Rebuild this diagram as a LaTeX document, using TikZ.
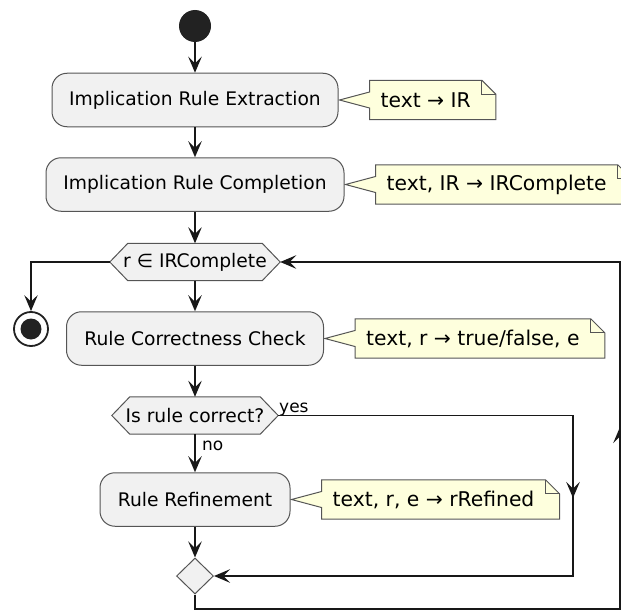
\documentclass[tikz,border=0pt]{standalone}
\usepackage{fontspec}
\setmainfont{DejaVu Sans}
\usetikzlibrary{arrows.meta,shapes.geometric,backgrounds,calc}

\definecolor{actfill}{HTML}{F1F1F1}
\definecolor{notefill}{HTML}{FEFFDD}
\definecolor{edgecol}{HTML}{555555}
\definecolor{linecol}{HTML}{181818}
\definecolor{dotcol}{HTML}{222222}

\newcommand\actfont{\fontsize{18.7pt}{22pt}\selectfont}
\newcommand\notefont{\fontsize{20.3pt}{24pt}\selectfont}
\newcommand\lblfont{\fontsize{17pt}{20pt}\selectfont}

% note frame with folded corner and a pointer to the action box
\newcommand\notepath[2]{%
  \filldraw[noteframe] (#1.north west) -- (#1.north east)
    -- ([xshift=14pt,yshift=-14pt]#1.north east) -- ([xshift=14pt]#1.south east)
    -- (#1.south west) -- ([yshift=-8pt]#1.west) -- ([xshift=1pt]#2.east)
    -- ([yshift=8pt]#1.west) -- cycle;
  \draw[noteframe,fill=none] (#1.north east) -- ([yshift=-14pt]#1.north east)
    -- ([xshift=14pt,yshift=-14pt]#1.north east);}

% hexagonal decision outline around a node
\newcommand\hexpath[1]{%
  \filldraw[hexframe] (#1.west) -- ([xshift=18pt]#1.north west) -- ([xshift=-18pt]#1.north east)
    -- (#1.east) -- ([xshift=-18pt]#1.south east) -- ([xshift=18pt]#1.south west) -- cycle;}

\tikzset{
  act/.style={rectangle, rounded corners=15pt, draw=edgecol, line width=1pt, fill=actfill,
    minimum height=53.5pt, inner sep=0pt, font=\actfont, text=black},
  hexa/.style={rectangle, inner sep=0pt, minimum height=37pt, font=\actfont, text=black},
  hexframe/.style={draw=edgecol, line width=1pt, fill=actfill},
  notetext/.style={anchor=west, inner xsep=11pt, inner ysep=0pt, minimum height=39pt,
    font=\notefont, text=black},
  noteframe/.style={draw=edgecol, line width=1pt, fill=notefill, line join=miter},
  merge/.style={diamond, draw=edgecol, line width=1pt, fill=actfill, inner sep=0pt,
    minimum width=37pt, minimum height=36pt},
  startdot/.style={circle, fill=dotcol, inner sep=0pt, minimum size=32pt},
  stopring/.style={circle, draw=dotcol, line width=1.8pt, fill=white, inner sep=0pt, minimum size=34pt},
  stopdot/.style={circle, fill=dotcol, inner sep=0pt, minimum size=21pt},
  lbl/.style={font=\lblfont, inner sep=0pt, text=black},
  flow/.style={draw=linecol, line width=1.6pt},
  arr/.style={flow, -{Stealth[length=16pt,width=13.5pt,inset=6.5pt]}},
}

\begin{document}
\begin{tikzpicture}[x=1pt, y=-1pt]
\useasboundingbox (0,0) rectangle (621,610);

% main flow
\node[startdot] (start) at (195,26) {};
\node[act, minimum width=286pt] (b1) at (195,100) {Implication Rule Extraction};
\node[act, minimum width=298pt] (b2) at (195,184.5) {Implication Rule Completion};
\node[hexa, minimum width=170pt] (h1) at (195,262) {r ∈ IRComplete};
\node[act, minimum width=257pt] (b3) at (195,338.5) {Rule Correctness Check};
\node[hexa, minimum width=166pt] (h2) at (195,415.5) {Is rule correct?};
\node[act, minimum width=190pt] (b4) at (195,499.5) {Rule Refinement};
\node[merge] (m) at (195,576) {};
\node[stopring] (stop) at (31,329) {};
\node[stopdot] (stopin) at (stop.center) {};

% notes
\node[notetext] (n1) at ([xshift=31pt]b1.east) {text → IR};
\node[notetext] (n2) at ([xshift=31pt]b2.east) {text, IR → IRComplete};
\node[notetext] (n3) at ([xshift=31pt]b3.east) {text, r → true/false, e};
\node[notetext] (n4) at ([xshift=31pt]b4.east) {text, r, e → rRefined};

\begin{scope}[on background layer]
  \hexpath{h1}
  \hexpath{h2}
  \notepath{n1}{b1}
  \notepath{n2}{b2}
  \notepath{n3}{b3}
  \notepath{n4}{b4}
\end{scope}

% branch labels
\node[lbl, anchor=base west] (yes) at (279,412) {yes};
\node[lbl, anchor=base west] (no) at (202,450) {no};

% route points of the side branches
\coordinate (yesTop) at (573,415.5);
\coordinate (yesBot) at (573,576);
\coordinate (loopA) at (195,609);
\coordinate (loopB) at (620,609);
\coordinate (loopC) at (620,262);

% connectors
\draw[arr] (start) -- (b1);
\draw[arr] (b1) -- (b2);
\draw[arr] (b2) -- (h1);
\draw[arr] (h1) -- (b3);
\draw[arr] (b3) -- (h2);
\draw[arr] (h2) -- (b4);
\draw[arr] (b4) -- (m);
\draw[arr] (h1.west) -| (stop.north);
\draw[arr] (h2.east) -- (yesTop) -- (yesBot) -- (m.east);
\draw[arr] (yesTop) -- ($(yesTop)!0.514!(yesBot)$);
\draw[arr] (m.south) -- (loopA) -- (loopB) -- (loopC) -- (h1.east);
\draw[arr] (loopB) -- ($(loopB)!0.5245!(loopC)$);
\end{tikzpicture}
\end{document}
